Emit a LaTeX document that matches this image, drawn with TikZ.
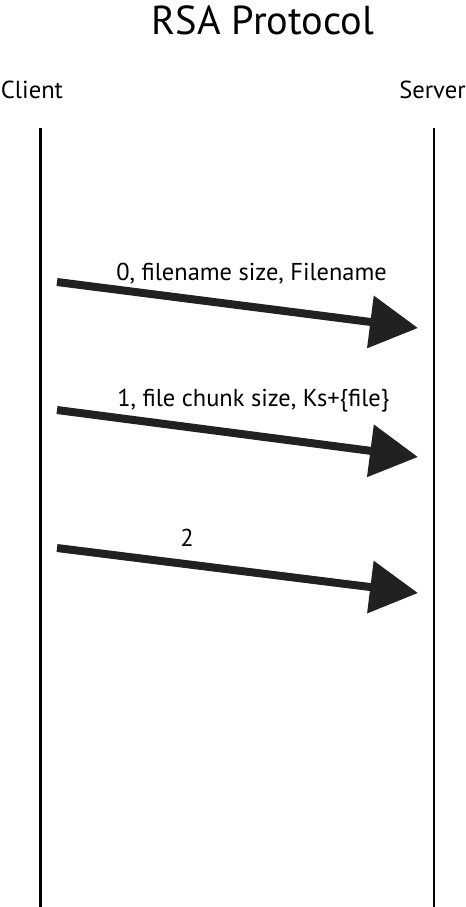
\documentclass[tikz,border=0pt]{standalone}
\usepackage{fontspec}
\setmainfont{PT Sans}
\usetikzlibrary{arrows.meta, positioning}

\begin{document}
\begin{tikzpicture}[
    x=0.02cm, y=-0.02cm, % 1 unit = 1 px of the sketch
    lifeline/.style={
      line width=1.2pt
    },
    actor/.style={
      inner sep=0pt,
      font=\fontsize{14}{16}\selectfont
    },
    msg/.style={
      line width=0.16cm,
      draw=black!87,
      -{Triangle[length=0.96cm, width=1.02cm]}
    },
    msglabel/.style={
      inner sep=0pt,
      anchor=base west,
      font=\fontsize{13.9}{16}\selectfont
    }
  ]

  % Rahmen
  \useasboundingbox (0,0) rectangle (466,907);

  % Titel
  \node[inner sep=0pt, font=\fontsize{23}{27}\selectfont] (title) at (263,20) {RSA Protocol};

  % Teilnehmer
  \node[actor] (client) at (32,90) {Client};
  \node[actor] (server) at (432.5,90) {Server};

  % Lebenslinien
  \coordinate (ctop) at (40.5,128);
  \coordinate (cbot) at (40.5,907);
  \coordinate (stop) at (434,128);
  \coordinate (sbot) at (434,907);
  \draw[lifeline] (ctop) -- (cbot);
  \draw[lifeline] (stop) -- (sbot);

  % Nachrichten
  \coordinate (m0a) at (57,282);
  \coordinate (m0b) at (418,328);
  \coordinate (m1a) at (57,410);
  \coordinate (m1b) at (418,457);
  \coordinate (m2a) at (57,548);
  \coordinate (m2b) at (418,593);
  \draw[msg] (m0a) -- (m0b);
  \draw[msg] (m1a) -- (m1b);
  \draw[msg] (m2a) -- (m2b);

  % Beschriftungen
  \node[msglabel] (l0) at (116,280) {0, filename size, Filename};
  \node[msglabel] (l1) at (117,406) {1, file chunk size, Ks+\{file\}};
  \node[msglabel] (l2) at (180,546) {2};

\end{tikzpicture}
\end{document}
